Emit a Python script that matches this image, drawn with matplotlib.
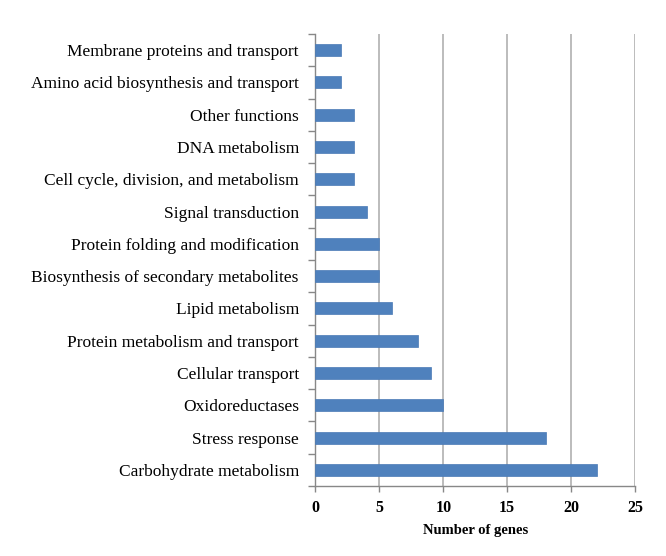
import matplotlib
matplotlib.use("Agg")
import matplotlib.pyplot as plt
import numpy as np

categories = [
    "Carbohydrate metabolism",
    "Stress response",
    "Oxidoreductases",
    "Cellular transport",
    "Protein metabolism and transport",
    "Lipid metabolism",
    "Biosynthesis of secondary metabolites",
    "Protein folding and modification",
    "Signal transduction",
    "Cell cycle, division, and metabolism",
    "DNA metabolism",
    "Other functions",
    "Amino acid biosynthesis and transport",
    "Membrane proteins and transport",
]
values = [22, 18, 10, 9, 8, 6, 5, 5, 4, 3, 3, 3, 2, 2]
xticks = [0, 5, 10, 15, 20, 25]

plt.rcParams['font.family'] = ['Liberation Serif', 'DejaVu Serif']

fig = plt.figure(figsize=(6.66, 5.56), dpi=100)
ax = fig.add_axes([0.4737, 0.1259, 0.4798, 0.8129])

y = np.arange(len(categories))
ax.barh(y, values, height=0.37, color='#4F81BD', edgecolor='#4A7AB5', linewidth=0.5, zorder=3)

ax.set_xlim(0, 25)
ax.set_ylim(-0.5, len(categories) - 0.5)
ax.set_xticks(xticks)
ax.set_xticklabels([str(t) for t in xticks], fontweight='bold', fontsize=11.5)
ax.set_yticks(y)
ax.set_yticklabels(categories, fontsize=12.5)
ax.set_yticks(np.arange(-0.5, len(categories), 1), minor=True)
ax.tick_params(axis='y', which='major', length=0, pad=12)
ax.tick_params(axis='y', which='minor', length=5, color='#888888', width=1)
ax.tick_params(axis='x', which='major', length=4, color='#888888', width=1, pad=6)

ax.xaxis.grid(True, color='#B0B0B0', linewidth=1.2, zorder=0)
for s in ['top', 'right']:
    ax.spines[s].set_visible(False)
for s in ['left', 'bottom']:
    ax.spines[s].set_color('#888888')
    ax.spines[s].set_linewidth(1)

ax.set_xlabel("Number of genes", fontweight='bold', fontsize=10.5, labelpad=6)

fig.savefig("out.png", dpi=100)
